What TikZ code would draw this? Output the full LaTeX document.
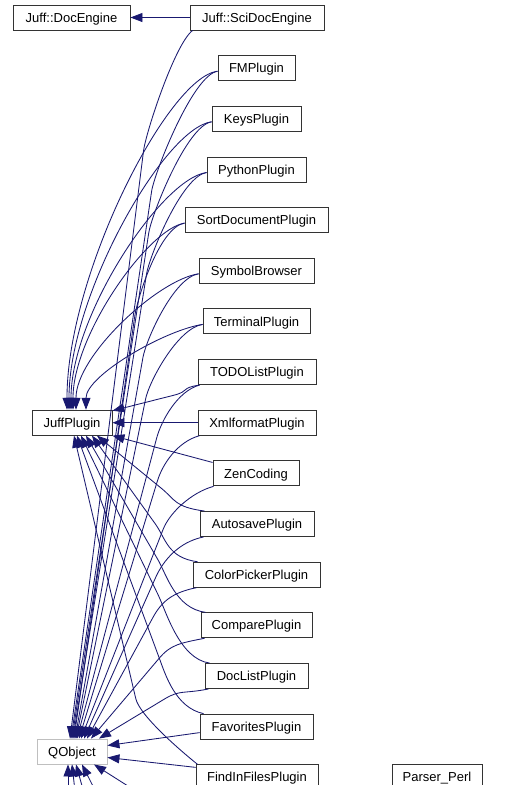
\documentclass[tikz,border=0pt]{standalone}
\usepackage{fontspec}
\setmainfont{Liberation Sans}
\usetikzlibrary{arrows.meta,calc}
\definecolor{edgecol}{HTML}{191970}
\definecolor{qgray}{HTML}{BFBFBF}
% curve, then straight run to target
\newcommand{\dedge}[5]{%
  \coordinate (eS) at #1;
  \coordinate (eT) at #2;
  \coordinate (eA) at ($(eS)!#4!(eT)$);
  \coordinate (eB) at ($(eS)!#5!(eT)$);
  \coordinate (eM) at (eA |- eB);
  \draw[conn] (eS) .. controls ($(eS)+#3$) and ($(eM)!-18pt!(eT)$) .. (eM) -- (eT);
}
% single smooth arc: leaves horizontally, arrives steeply
\newcommand{\cedge}[5]{%
  \coordinate (eS) at #1;
  \coordinate (eT) at #2;
  \coordinate (eA) at ($(eS)!#3!(eT)$);
  \coordinate (eC) at (eA |- eS);
  \coordinate (eB) at ($(eT)!#4!(eS)$);
  \coordinate (eD) at ($(eT)!#5!(eS)$);
  \coordinate (eE) at (eD |- eB);
  \draw[conn] (eS) .. controls ($(eC)+(0,6)$) and (eE) .. (eT);
}
\begin{document}
\begin{tikzpicture}[x=1pt,y=-1pt,
  box/.style={draw=black!80, line width=0.9pt, fill=white, inner sep=0pt,
    minimum height=25pt, text height=9.3pt, text depth=0pt,
    font=\fontsize{13}{15}\selectfont},
  qbox/.style={box, draw=qgray},
  conn/.style={draw=edgecol, line width=0.85pt, -{Triangle[length=12pt,width=9pt]}}]
\clip (0,0) rectangle (520,785);
\fill[white] (0,0) rectangle (520,785);

\node[box, minimum width=117pt] (doc) at (71.5,17.5) {Juff::DocEngine};
\node[box, minimum width=134pt] (sci) at (257,17.5) {Juff::SciDocEngine};
\node[box, minimum width=77pt] (fm) at (256.5,68.2) {FMPlugin};
\node[box, minimum width=89pt] (keys) at (256.5,118.8) {KeysPlugin};
\node[box, minimum width=99pt] (py) at (256.5,169.5) {PythonPlugin};
\node[box, minimum width=143pt] (sort) at (256.5,220.1) {SortDocumentPlugin};
\node[box, minimum width=115pt] (sym) at (256.5,270.8) {SymbolBrowser};
\node[box, minimum width=107pt] (term) at (256.5,321.4) {TerminalPlugin};
\node[box, minimum width=118pt] (todo) at (257,372.1) {TODOListPlugin};
\node[box, minimum width=118pt] (xml) at (257,422.7) {XmlformatPlugin};
\node[box, minimum width=86pt] (zen) at (256,473.4) {ZenCoding};
\node[box, minimum width=114pt] (autos) at (257,524) {AutosavePlugin};
\node[box, minimum width=127pt] (color) at (256.5,574.7) {ColorPickerPlugin};
\node[box, minimum width=111pt] (cmp) at (256.5,625.3) {ComparePlugin};
\node[box, minimum width=103pt] (dl) at (256.5,676) {DocListPlugin};
\node[box, minimum width=113pt] (fav) at (256.5,726.6) {FavoritesPlugin};
\node[box, minimum width=122pt] (find) at (257,777.3) {FindInFilesPlugin};
\node[box, minimum width=90pt] (perl) at (437,777.3) {Parser\_Perl};
\node[box, minimum width=80pt] (juff) at (72,422.7) {JuffPlugin};
\node[qbox, minimum width=70pt] (qo) at (72,751.5) {QObject};

% SciDocEngine
\draw[conn] (sci.west) -- (doc.east);
\dedge{([xshift=3pt]sci.south west)}{([xshift=-2pt]qo.north)}{(-18,14)}{0.4}{0.17}

% upper plugins
\foreach \n/\jx/\qx in {fm/-5/-1, keys/-3/0, py/-1/1, sort/1/2, sym/4/3, term/14/4} {
  \cedge{([yshift=-3pt]\n.west)}{([xshift=\jx pt]juff.north)}{0.33}{0.4}{0}
  \dedge{([yshift=-3pt]\n.west)}{([xshift=\qx pt]qo.north)}{(-25,4)}{0.45}{0.18}
}

% TODO
\dedge{([xshift=2pt]todo.south west)}{([yshift=-1pt]juff.north east)}{(-20,3)}{0.3}{0.4}
\dedge{([xshift=2pt]todo.south west)}{([xshift=5pt]qo.north)}{(-22,6)}{0.35}{0.15}

% Xmlformat
\draw[conn] (xml.west) -- (juff.east);
\dedge{([xshift=2pt]xml.south west)}{([xshift=7pt]qo.north)}{(-22,6)}{0.35}{0.15}

% ZenCoding
\draw[conn] ([yshift=-2pt]zen.north west) -- (juff.south east);
\dedge{([xshift=1pt]zen.south west)}{([xshift=9pt]qo.north)}{(-22,6)}{0.38}{0.17}

% lower plugins
\foreach \n/\jx/\qx in {autos/25/12, color/20/15, cmp/14/19, dl/9/27} {
  \dedge{([xshift=5pt]\n.north west)}{([xshift=\jx pt]juff.south)}{(-30,-4)}{0.4}{0.3}
  \dedge{([xshift=4pt]\n.south west)}{([xshift=\qx pt]qo.north)}{(-25,5)}{0.4}{0.2}
}

% Favorites
\dedge{([xshift=4pt]fav.north west)}{([xshift=5pt]juff.south)}{(-28,-6)}{0.35}{0.2}
\draw[conn] ([yshift=-6pt]fav.west) -- ([yshift=6pt]qo.east);

% FindInFiles
\dedge{([xshift=2pt]find.north west)}{([xshift=2pt]juff.south)}{(-15,-12)}{0.5}{0.2}
\draw[conn] ([yshift=-3pt]find.north west) -- ([yshift=-6pt]qo.east);

% classes below the visible area
\coordinate (b1) at (68,800);
\coordinate (b2) at (76,800);
\coordinate (b3) at (86,800);
\coordinate (b4) at (100,800);
\coordinate (b5) at (150,800);
\draw[conn] (b1) -- ([xshift=-4pt]qo.south);
\draw[conn] (b2) -- ([xshift=0pt]qo.south);
\draw[conn] (b3) -- ([xshift=4pt]qo.south);
\draw[conn] (b4) -- ([xshift=10pt]qo.south);
\draw[conn] (b5) -- ([xshift=22pt]qo.south);
\end{tikzpicture}
\end{document}
